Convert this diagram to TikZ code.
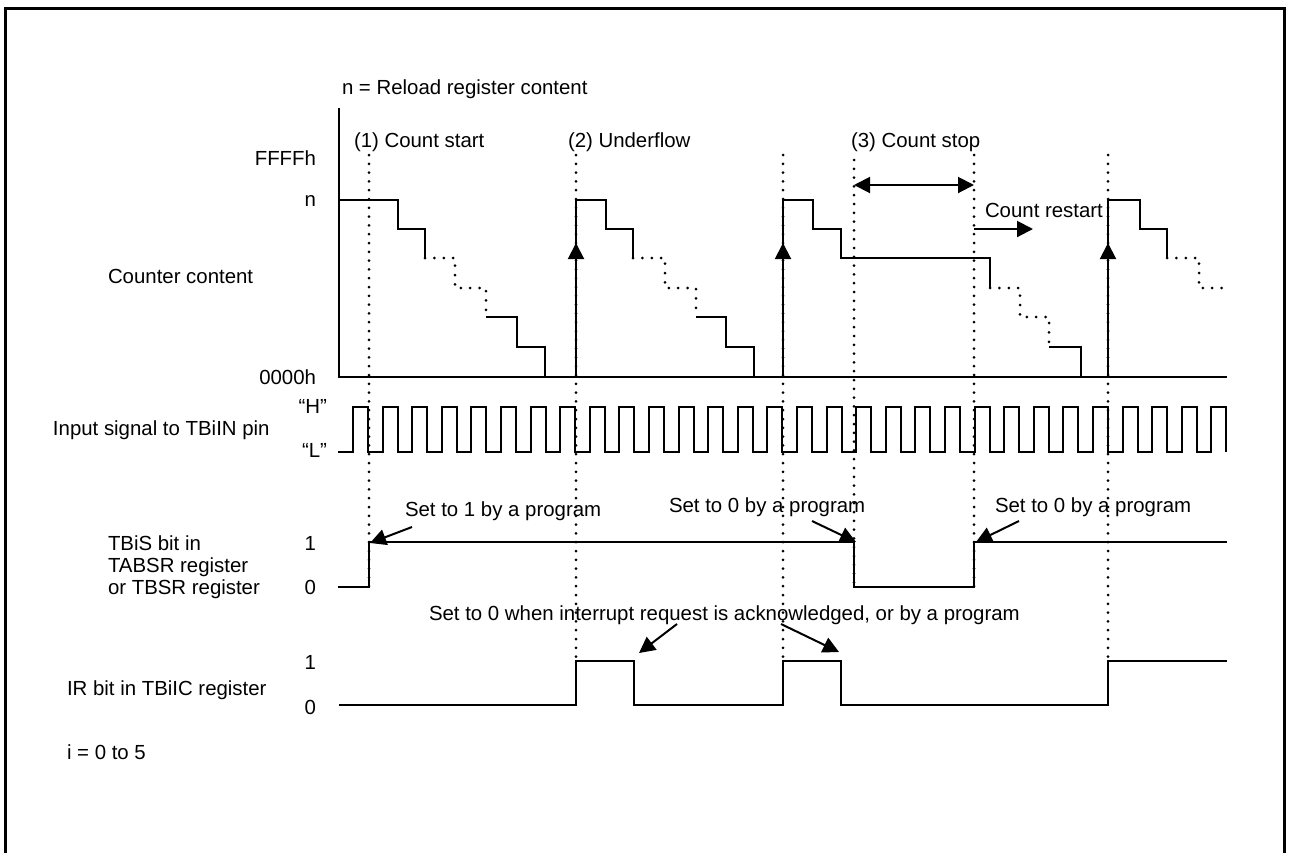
\documentclass[tikz,border=0pt]{standalone}
\usepackage{fontspec}
\setmainfont{Liberation Sans}
\usetikzlibrary{arrows.meta}

\begin{document}
\begin{tikzpicture}[x=0.5pt,y=-0.5pt,>={Triangle[length=8pt,width=8pt]},
  font=\fontsize{10.2}{12}\selectfont,line width=1pt,
  lbl/.style={inner sep=0pt,anchor=base west},
  lvl/.style={inner sep=0pt,anchor=base east},
  guide/.style={line width=1.5pt,dash pattern=on 0pt off 4.4pt,line cap=round},
  dots/.style={line width=1.5pt,dash pattern=on 0pt off 4.7pt,line cap=round}]
\useasboundingbox (0,0) rectangle (1291,853);
\draw[line width=1.5pt] (5,853) -- (5,8) -- (1284,8) -- (1284,853);

\node[lbl] (note) at (341,94) {n = Reload register content};
\node[lbl] (start) at (353,147) {(1) Count start};
\node[lbl] (uflow) at (567,147) {(2) Underflow};
\node[lbl] (stop) at (850,147) {(3) Count stop};
\node[lbl] (restart) at (984,217) {Count restart};
\node[lvl] (ffff) at (317,165) {FFFFh};
\node[lvl] (nval) at (317,206) {n};
\node[lvl] (zero) at (317,384) {0000h};
\node[lbl] (cnt) at (107,283) {Counter content};
\node[lvl] (hi) at (328,413) {“H”};
\node[lvl] (lo) at (328,457) {“L”};
\node[lbl] (pin) at (52,435) {Input signal to TBiIN pin};
\node[lbl] (tbs1) at (107,550) {TBiS bit in};
\node[lbl] (tbs2) at (107,572) {TABSR register};
\node[lbl] (tbs3) at (107,594) {or TBSR register};
\node[lvl] (s1) at (317,550) {1};
\node[lvl] (s0) at (317,594) {0};
\node[lbl] (set1) at (404,516) {Set to 1 by a program};
\node[lbl] (set0a) at (668,512) {Set to 0 by a program};
\node[lbl] (set0b) at (994,512) {Set to 0 by a program};
\node[lbl] (ack) at (428,620) {Set to 0 when interrupt request is acknowledged, or by a program};
\node[lbl] (ir) at (66,695) {IR bit in TBiIC register};
\node[lvl] (r1) at (317,669) {1};
\node[lvl] (r0) at (317,714) {0};
\node[lbl] (idx) at (66,759) {i = 0 to 5};

\draw (339,108) -- (339,377) -- (1227,377);
\draw (339,200) -- (398,200) -- (398,229) -- (425,229) -- (425,258);
\draw[dots] (425,258) -- (455,258) -- (455,288) -- (486,288) -- (486,317);
\draw (486,317) -- (517,317) -- (517,347) -- (545,347) -- (545,377);
\draw (576,377) -- (576,200) -- (606,200) -- (606,229) -- (633,229) -- (633,258);
\draw[dots] (633,258) -- (665,258) -- (665,288) -- (696,288) -- (696,317);
\draw (696,317) -- (726,317) -- (726,347) -- (754,347) -- (754,377);
\draw (783,377) -- (783,200) -- (813,200) -- (813,229) -- (841,229) -- (841,258) -- (990,258) -- (990,288);
\draw[dots] (990,288) -- (1020,288) -- (1020,317) -- (1049,317) -- (1049,347);
\draw (1049,347) -- (1081,347) -- (1081,377);
\draw (1108,377) -- (1108,200) -- (1140,200) -- (1140,229) -- (1167,229) -- (1167,258);
\draw[dots] (1167,258) -- (1199,258) -- (1199,288) -- (1222,288);
\draw[->] (576,377) -- (576,243);
\draw[->] (783,377) -- (783,243);
\draw[->] (1108,377) -- (1108,243);

\draw[guide] (369,155) -- (369,587);
\draw[guide] (576,155) -- (576,661);
\draw[guide] (783,155) -- (783,661);
\draw[guide] (854,160) -- (854,587);
\draw[guide] (974,155) -- (974,587);
\draw[guide] (1108,155) -- (1108,661);

\coordinate (stopL) at (854,185);
\coordinate (stopR) at (974,185);
\coordinate (goA) at (974,229);
\coordinate (goB) at (1033,229);
\draw[<->] (stopL) -- (stopR);
\draw[->] (goA) -- (goB);

\draw (338,452) foreach \k in {0,...,29} {
  -- ({353+29.6*\k},452) -- ({353+29.6*\k},407) -- ({368+29.6*\k},407) -- ({368+29.6*\k},452)};

\draw (338,587) -- (369,587) -- (369,542) -- (854,542) -- (854,587) -- (974,587) -- (974,542) -- (1227,542);
\draw (339,705) -- (576,705) -- (576,661) -- (634,661) -- (634,705) -- (783,705) -- (783,661)
  -- (841,661) -- (841,705) -- (1108,705) -- (1108,661) -- (1227,661);

\coordinate (t1) at (412,527);
\coordinate (h1) at (370,543);
\coordinate (t2) at (812,521);
\coordinate (h2) at (856,542);
\coordinate (t3) at (1019,521);
\coordinate (h3) at (976,542);
\coordinate (t4) at (677,624);
\coordinate (h4) at (639,653);
\coordinate (t5) at (781,624);
\coordinate (h5) at (839,652);
\draw[->] (t1) -- (h1);
\draw[->] (t2) -- (h2);
\draw[->] (t3) -- (h3);
\draw[->] (t4) -- (h4);
\draw[->] (t5) -- (h5);
\end{tikzpicture}
\end{document}
